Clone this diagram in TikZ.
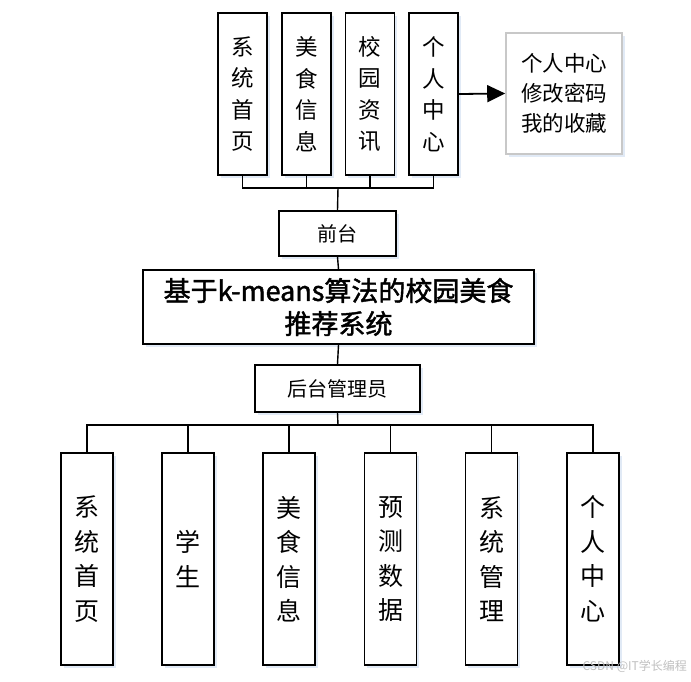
\documentclass[tikz,border=0pt]{standalone}
\usepackage{fontspec}
\newfontfamily\cjk{Noto Sans CJK SC}
\newfontfamily\cjkt[FakeBold=1.6]{Noto Sans CJK SC}
\usetikzlibrary{arrows.meta,shadows}
\definecolor{shadowblue}{RGB}{205,220,240}
\begin{document}
\begin{tikzpicture}[x=1pt,y=-1pt,
  boxshadow/.style={drop shadow={fill=shadowblue,opacity=0.6,shadow xshift=2.5pt,shadow yshift=-2.5pt}},
  topbox/.style={draw=black,line width=1.6pt,fill=white,inner sep=0pt,minimum width=49pt,minimum height=162pt,align=center,font=\cjk\fontsize{22.5}{31.5}\selectfont,boxshadow},
  botbox/.style={draw=black,line width=1.6pt,fill=white,inner sep=0pt,minimum width=52pt,minimum height=212pt,align=center,font=\cjk\fontsize{25}{34.5}\selectfont,boxshadow},
  midbox/.style={draw=black,line width=1.6pt,fill=white,inner sep=0pt,align=center,boxshadow},
  conn/.style={line width=1.4pt,draw=black}
]
\useasboundingbox (0,0) rectangle (691,681);
% top row
\node[topbox] (t1) at (242.5,94) {系\\统\\首\\页};
\node[topbox] (t2) at (306.5,94) {美\\食\\信\\息};
\node[topbox] (t3) at (370,94) {校\\园\\资\\讯};
\node[topbox] (t4) at (433.5,94) {个\\人\\中\\心};
\node[draw={rgb,255:red,200;green,200;blue,200},line width=1.6pt,fill=white,inner sep=0pt,minimum width=116pt,minimum height=121pt,align=center,font=\cjk\fontsize{21.5}{30}\selectfont,boxshadow] (pc) at (564,93.5) {个人中心\\修改密码\\我的收藏};
\coordinate (tbus) at (338,188);
% middle
\node[midbox,minimum width=117pt,minimum height=45pt,font=\cjk\fontsize{20}{24}\selectfont] (front) at (337.5,233.5) {前台};
\node[midbox,minimum width=391pt,minimum height=74pt,font=\cjkt\fontsize{27}{33}\selectfont] (main) at (338.5,307) {基于k-means算法的校园美食\\推荐系统};
\node[midbox,minimum width=165pt,minimum height=47pt,font=\cjk\fontsize{20}{24}\selectfont] (admin) at (337.5,388.5) {后台管理员};
\coordinate (bbus) at (338,425);
% bottom row
\node[botbox] (b1) at (87,559) {系\\统\\首\\页};
\node[botbox] (b2) at (188,559) {学\\生};
\node[botbox] (b3) at (289,559) {美\\食\\信\\息};
\node[botbox] (b4) at (390.5,559) {预\\测\\数\\据};
\node[botbox] (b5) at (491.5,559) {系\\统\\管\\理};
\node[botbox] (b6) at (593,559) {个\\人\\中\\心};
% connectors top
\draw[conn] (t1.south) -- (t1.south |- tbus) -- (t4.south |- tbus) -- (t4.south);
\draw[conn] (t2.south) -- (t2.south |- tbus);
\draw[conn] (t3.south) -- (t3.south |- tbus);
\draw[conn] (tbus) -- (front.north);
\draw[conn,line width=1.8pt,-{Triangle[length=18pt,width=17pt]}] (t4.east) -- (pc.west);
\draw[conn] (front.south) -- (main.north);
\draw[conn] (main.south) -- (admin.north);
% connectors bottom
\draw[conn] (admin.south) -- (bbus);
\draw[conn] (b1.north) -- (b1.north |- bbus) -- (b6.north |- bbus) -- (b6.north);
\draw[conn] (b2.north) -- (b2.north |- bbus);
\draw[conn] (b3.north) -- (b3.north |- bbus);
\draw[conn] (b4.north) -- (b4.north |- bbus);
\draw[conn] (b5.north) -- (b5.north |- bbus);
% watermark
\node[text=black!25,font=\cjk\fontsize{12}{14}\selectfont,anchor=east,inner sep=0pt] (wm) at (687,666) {CSDN @IT学长编程};
\end{tikzpicture}
\end{document}
